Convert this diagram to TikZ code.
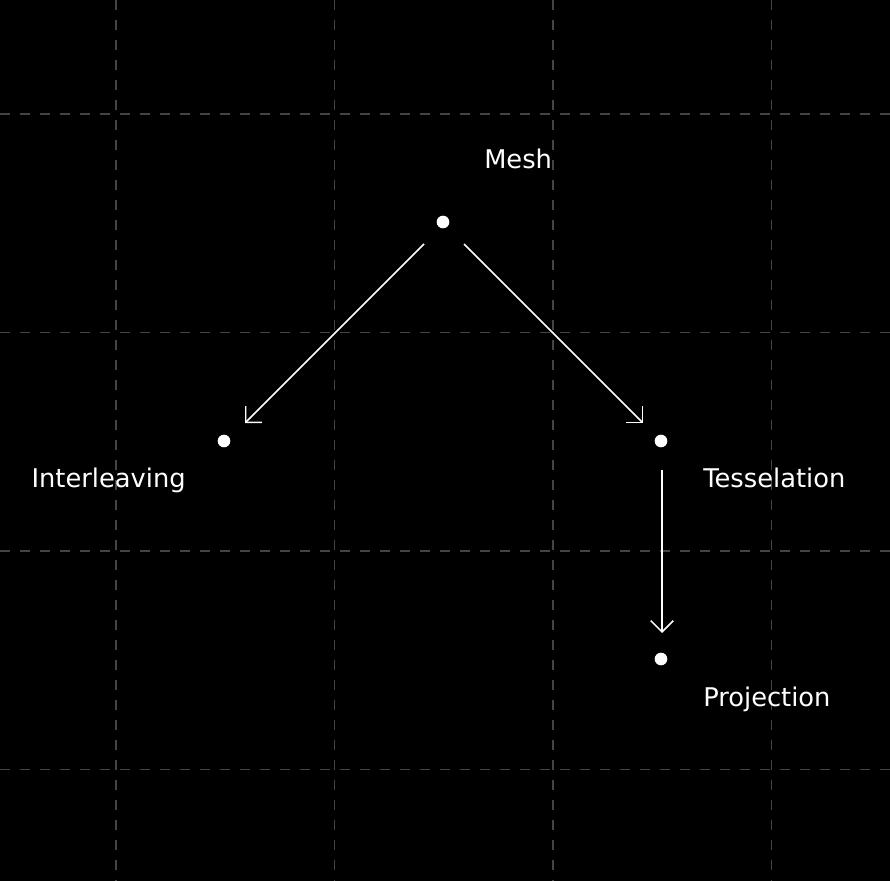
\documentclass[tikz,border=0pt]{standalone}
\usepackage{fontspec}
\setmainfont{DejaVu Sans}
\usetikzlibrary{arrows.meta}
\definecolor{gridgray}{HTML}{444444}
\tikzset{
  gridline/.style={draw=gridgray, line width=0.9pt, dash pattern=on 7.5pt off 7.5pt},
  dotnode/.style={circle, fill=white, inner sep=0pt, minimum size=9.5pt},
  lbl/.style={text=white, font=\fontsize{19.3pt}{22pt}\selectfont, inner sep=0pt},
  link/.style={draw=white, line width=1.1pt, -{Straight Barb[length=8.5pt,width=17pt,line width=1.1pt]}}
}
\begin{document}
\begin{tikzpicture}[x=0.75pt,y=-0.75pt]
\fill[black] (0,0) rectangle (890,881);
\useasboundingbox (0,0) rectangle (890,881);
\foreach \gx in {116,334.5,553,771.5} \draw[gridline] (\gx,0) -- (\gx,881);
\foreach \gy in {114,332.5,551,769.5} \draw[gridline] (0,\gy) -- (890,\gy);
\node[dotnode] (mesh) at (443,222) {};
\node[dotnode] (inter) at (224,441) {};
\node[dotnode] (tess) at (661,441) {};
\node[dotnode] (proj) at (661,659) {};
\node[lbl, anchor=base west] (meshl) at (484,168) {Mesh};
\node[lbl, anchor=base east] (interl) at (186,487) {Interleaving};
\node[lbl, anchor=base west] (tessl) at (703,487) {Tesselation};
\node[lbl, anchor=base west] (projl) at (703,706) {Projection};
\coordinate (a1s) at (424,244);
\coordinate (a1e) at (245,423);
\coordinate (a2s) at (464,244);
\coordinate (a2e) at (643,423);
\coordinate (a3s) at (662,470);
\coordinate (a3e) at (662,633);
\draw[link] (a1s) -- (a1e);
\draw[link] (a2s) -- (a2e);
\draw[link] (a3s) -- (a3e);
\end{tikzpicture}
\end{document}
